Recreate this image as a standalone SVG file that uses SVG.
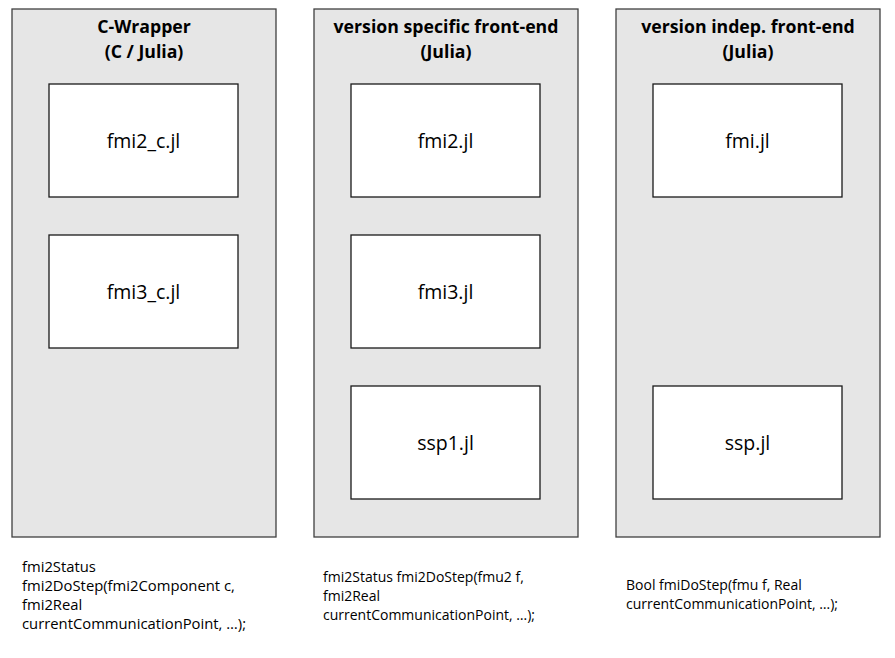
<svg xmlns="http://www.w3.org/2000/svg" width="895" height="658" viewBox="0 0 895 658">
<style>
.panel{fill:#e6e6e6;stroke:#404040;stroke-width:1.3}
.box{fill:#ffffff;stroke:#1a1a1a;stroke-width:1.3}
.title{font-family:"Open Sans","Liberation Sans",sans-serif;font-weight:bold;font-size:17.7px;fill:#000;text-anchor:middle}
.lbl{font-family:"Open Sans","Liberation Sans",sans-serif;font-size:19.5px;fill:#000;text-anchor:middle}
.note{font-family:"Open Sans","Liberation Sans",sans-serif;font-size:14px;fill:#000}
.noteL{font-size:14.8px}
</style>
<rect width="895" height="658" fill="#ffffff"/>
<g id="panel-cwrapper">
<rect class="panel" x="12" y="9" width="264" height="528"/>
<text class="title" x="144" y="33">C-Wrapper</text>
<text class="title" x="144" y="58">(C / Julia)</text>
</g>
<g id="panel-specific">
<rect class="panel" x="314" y="9" width="264" height="528"/>
<text class="title" x="446" y="33">version specific front-end</text>
<text class="title" x="446" y="58">(Julia)</text>
</g>
<g id="panel-indep">
<rect class="panel" x="616" y="9" width="264" height="528"/>
<text class="title" x="748" y="33">version indep. front-end</text>
<text class="title" x="748" y="58">(Julia)</text>
</g>
<g id="fmi2_c">
<rect class="box" x="49" y="84" width="189" height="113"/>
<text class="lbl" x="143.5" y="148">fmi2_c.jl</text>
</g>
<g id="fmi3_c">
<rect class="box" x="49" y="235" width="189" height="113"/>
<text class="lbl" x="143.5" y="299">fmi3_c.jl</text>
</g>
<g id="fmi2">
<rect class="box" x="351" y="84" width="189" height="113"/>
<text class="lbl" x="445.5" y="148">fmi2.jl</text>
</g>
<g id="fmi3">
<rect class="box" x="351" y="235" width="189" height="113"/>
<text class="lbl" x="445.5" y="299">fmi3.jl</text>
</g>
<g id="ssp1">
<rect class="box" x="351" y="386" width="189" height="113"/>
<text class="lbl" x="445.5" y="450">ssp1.jl</text>
</g>
<g id="fmi">
<rect class="box" x="653" y="84" width="189" height="113"/>
<text class="lbl" x="747.5" y="148">fmi.jl</text>
</g>
<g id="ssp">
<rect class="box" x="653" y="386" width="189" height="113"/>
<text class="lbl" x="747.5" y="450">ssp.jl</text>
</g>
<g id="notes">
<text class="note noteL" x="22" y="572">fmi2Status</text>
<text class="note noteL" x="22" y="591">fmi2DoStep(fmi2Component c,</text>
<text class="note noteL" x="22" y="610">fmi2Real</text>
<text class="note noteL" x="22" y="629">currentCommunicationPoint, …);</text>
<text class="note" x="323" y="582">fmi2Status fmi2DoStep(fmu2 f,</text>
<text class="note" x="323" y="601">fmi2Real</text>
<text class="note" x="323" y="620">currentCommunicationPoint, …);</text>
<text class="note" x="626" y="590">Bool fmiDoStep(fmu f, Real</text>
<text class="note" x="626" y="609">currentCommunicationPoint, …);</text>
</g>
<g id="connectors"/>
</svg>
